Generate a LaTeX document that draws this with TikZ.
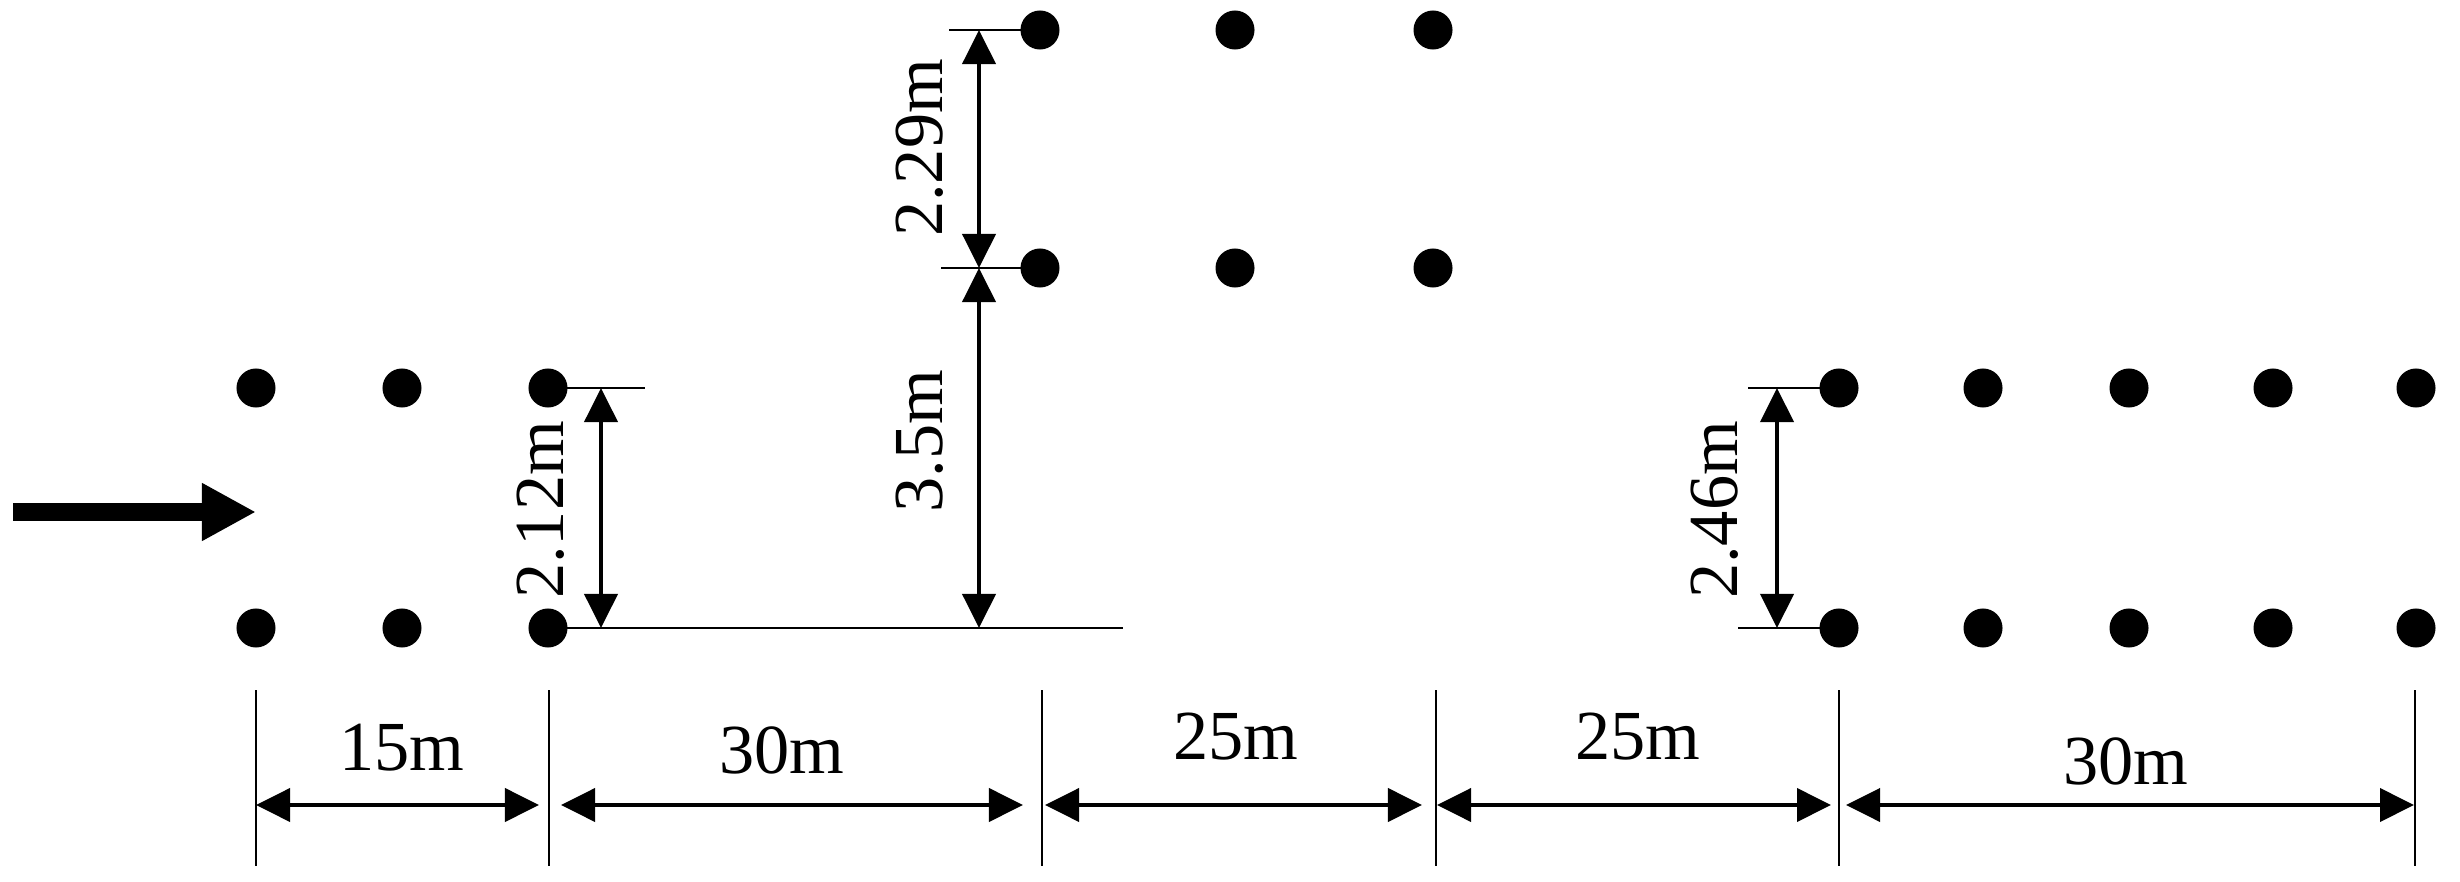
\documentclass[tikz,border=0pt]{standalone}
\usepackage{fontspec}
\setmainfont{Liberation Serif}
\usetikzlibrary{arrows.meta}
\begin{document}
\begin{tikzpicture}[x=0.01cm,y=-0.01cm,
  pile/.style={circle,fill=black,inner sep=0pt,minimum size=0.39cm},
  dimline/.style={line width=1.1pt,{Triangle[length=0.34cm,width=0.33cm]}-{Triangle[length=0.34cm,width=0.33cm]}},
  extline/.style={line width=0.8pt},
  lbl/.style={font=\fontsize{20}{24}\selectfont,inner sep=0pt},
  vlbl/.style={lbl,rotate=90}]
\useasboundingbox (0,0) rectangle (2460,882);
% piles
\foreach \x/\n in {256/1,402/2,548/3} {
  \node[pile] (La\n) at (\x,388) {};
  \node[pile] (Lb\n) at (\x,628) {};
}
\foreach \x/\n in {1040/1,1235/2,1433/3} {
  \node[pile] (Ma\n) at (\x,30) {};
  \node[pile] (Mb\n) at (\x,268) {};
}
\foreach \x/\n in {1839/1,1983/2,2129/3,2273/4,2416/5} {
  \node[pile] (Ra\n) at (\x,388) {};
  \node[pile] (Rb\n) at (\x,628) {};
}
% flow arrow
\coordinate (fa) at (13,512);
\coordinate (fb) at (256,512);
\draw[line width=0.18cm,-{Triangle[length=0.54cm,width=0.54cm]}] (fa) -- (fb);
% extension lines
\coordinate (e1) at (645,388);
\coordinate (e2) at (1123,628);
\coordinate (e3) at (949,30);
\coordinate (e4) at (941,268);
\coordinate (e5) at (1748,388);
\coordinate (e6) at (1738,628);
\draw[extline] (La3.center) -- (e1);
\draw[extline] (Lb3.center) -- (e2);
\draw[extline] (Ma1.center) -- (e3);
\draw[extline] (Mb1.center) -- (e4);
\draw[extline] (Ra1.center) -- (e5);
\draw[extline] (Rb1.center) -- (e6);
% vertical dimensions
\coordinate (a1t) at (601,388); \coordinate (a1b) at (601,628);
\draw[dimline] (a1t) -- (a1b);
\node[vlbl] (t212) at (541,510) {2.12m};
\coordinate (a2t) at (979,30); \coordinate (a2m) at (979,268); \coordinate (a2b) at (979,628);
\draw[dimline] (a2t) -- (a2m);
\draw[dimline] (a2m) -- (a2b);
\node[vlbl] (t229) at (920,148) {2.29m};
\node[vlbl] (t35) at (920,441) {3.5m};
\coordinate (a3t) at (1777,388); \coordinate (a3b) at (1777,628);
\draw[dimline] (a3t) -- (a3b);
\node[vlbl] (t246) at (1715,510) {2.46m};
% bottom extension lines
\foreach \x/\n in {256/1,549/2,1042/3,1436/4,1839/5,2415/6} {
  \coordinate (v\n t) at (\x,690);
  \coordinate (v\n b) at (\x,866);
  \draw[extline] (v\n t) -- (v\n b);
}
% bottom dimension arrows
\coordinate (s1a) at (256,805);  \coordinate (s1b) at (539,805);
\coordinate (s2a) at (561,805);  \coordinate (s2b) at (1023,805);
\coordinate (s3a) at (1045,805); \coordinate (s3b) at (1422,805);
\coordinate (s4a) at (1437,805); \coordinate (s4b) at (1831,805);
\coordinate (s5a) at (1846,805); \coordinate (s5b) at (2414,805);
\draw[dimline] (s1a) -- (s1b);
\draw[dimline] (s2a) -- (s2b);
\draw[dimline] (s3a) -- (s3b);
\draw[dimline] (s4a) -- (s4b);
\draw[dimline] (s5a) -- (s5b);
\node[lbl] (b1) at (402,748) {15m};
\node[lbl] (b2) at (782,750) {30m};
\node[lbl] (b3) at (1236,737) {25m};
\node[lbl] (b4) at (1638,737) {25m};
\node[lbl] (b5) at (2126,761) {30m};
\end{tikzpicture}
\end{document}
